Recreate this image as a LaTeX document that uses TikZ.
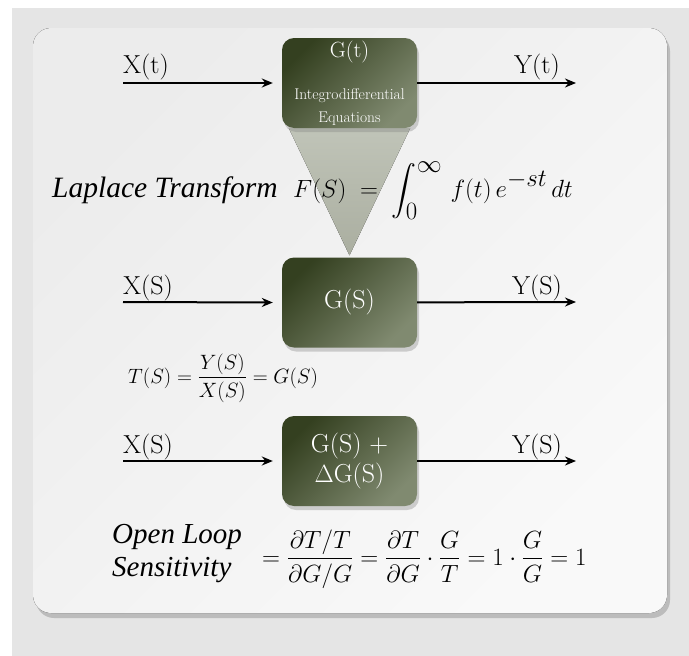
\documentclass[tikz,border=0pt]{standalone}
\usepackage{fontspec}
\usepackage{amsmath}
\usetikzlibrary{arrows.meta, shadows, backgrounds}
\newfontfamily\timesfam{Liberation Serif}

\definecolor{fondo}{RGB}{229,229,229}
\definecolor{panelA}{RGB}{236,236,236}
\definecolor{panelB}{RGB}{249,249,249}
\definecolor{oscuro}{RGB}{52,64,32}
\definecolor{claro}{RGB}{128,138,112}
\definecolor{conoA}{RGB}{192,196,184}
\definecolor{conoB}{RGB}{170,174,160}

\tikzset{
	bloque/.style={rounded corners=12pt, minimum width=135pt, minimum height=90pt,
		inner sep=0pt, top color=oscuro, bottom color=claro, shading angle=45,
		text=white, align=center, font=\fontsize{26}{30}\selectfont,
		drop shadow={shadow xshift=2pt, shadow yshift=-4pt, opacity=0.35}},
	senal/.style={line width=2pt, -{Stealth[length=11pt, width=9pt]}},
	etiqueta/.style={font=\fontsize{26}{30}\selectfont, inner sep=0pt},
}

\begin{document}
\begin{tikzpicture}[x=1pt, y=-1pt]

	\useasboundingbox (0,0) rectangle (689,656);

	% 1. Bloques (posiciones x, y)
	\node[bloque, font=\fontsize{15.5}{23}\selectfont] (Gt) at (349.5,83)
		{{\fontsize{22}{26}\selectfont G(t)}\\[19pt] Integrodifferential\\Equations};
	\node[bloque] (Gs) at (349.5,302.5) {G(S)};
	\node[bloque] (Gd) at (349.5,461) {G(S) +\\$\Delta$G(S)};

	% Extremos de las flechas
	\coordinate (Xt) at (123,83);
	\coordinate (Yt) at (576,83);
	\coordinate (Xs) at (123,302);
	\coordinate (Ys) at (576,302);
	\coordinate (Xd) at (123,461);
	\coordinate (Yd) at (576,461);

	% 2. Flechas de entrada y salida
	\draw[senal] (Xt) -- ([xshift=-9pt]Gt.west);
	\draw[senal] (Gt) -- (Yt);
	\draw[senal] (Xs) -- ([xshift=-9pt]Gs.west);
	\draw[senal] (Gs) -- (Ys);
	\draw[senal] (Xd) -- ([xshift=-9pt]Gd.west);
	\draw[senal] (Gd) -- (Yd);

	% Etiquetas de las senales
	\node[etiqueta, anchor=base west] (lXt) at (123,73) {X(t)};
	\node[etiqueta, anchor=base east] (lYt) at (560,73) {Y(t)};
	\node[etiqueta, anchor=base west] (lXs) at (123,294) {X(S)};
	\node[etiqueta, anchor=base east] (lYs) at (562,294) {Y(S)};
	\node[etiqueta, anchor=base west] (lXd) at (123,453) {X(S)};
	\node[etiqueta, anchor=base east] (lYd) at (562,453) {Y(S)};

	% 3. Ecuaciones
	\node[anchor=base west, inner sep=0pt, font=\fontsize{29.5}{34}\selectfont\timesfam\itshape] (lap) at (52,197)
		{Laplace Transform};
	\node[anchor=base west, inner sep=0pt, font=\fontsize{33}{38}\selectfont] (fs) at (293,197)
		{$\displaystyle F(S) \;=\; \int_0^\infty \, f(t)\,e^{-st}\,dt$};
	\node[anchor=west, inner sep=0pt, font=\fontsize{20.5}{24}\selectfont] (tf) at (128,378)
		{$T(S) = \dfrac{Y(S)}{X(S)} = G(S)$};
	\node[anchor=west, inner sep=0pt, align=left, font=\fontsize{29}{33}\selectfont\timesfam\itshape] (ols) at (112,554)
		{Open Loop\\Sensitivity};
	\node[anchor=west, inner sep=0pt, font=\fontsize{24}{28}\selectfont] (sens) at (262,559)
		{$= \dfrac{\partial T/T}{\partial G/G} = \dfrac{\partial T}{\partial G}\cdot\dfrac{G}{T} = 1\cdot\dfrac{G}{G} = 1$};

	% 4. Fondo, panel y cono (capa de fondo)
	\begin{scope}[on background layer]
		\fill[white] (0,0) rectangle (689,656);
		\fill[fondo] (12,8) rectangle (689,656);
		\fill[rounded corners=18pt, top color=panelA, bottom color=panelB, shading angle=45,
			drop shadow={shadow xshift=3pt, shadow yshift=-5pt, opacity=0.4}]
			(33,28) rectangle (667,613);
		\fill[top color=conoA, bottom color=conoB] ([xshift=7pt]Gt.south west) -- ([xshift=-7pt]Gt.south east)
			-- ([yshift=2pt]Gs.north) -- cycle;
	\end{scope}

\end{tikzpicture}
\end{document}
